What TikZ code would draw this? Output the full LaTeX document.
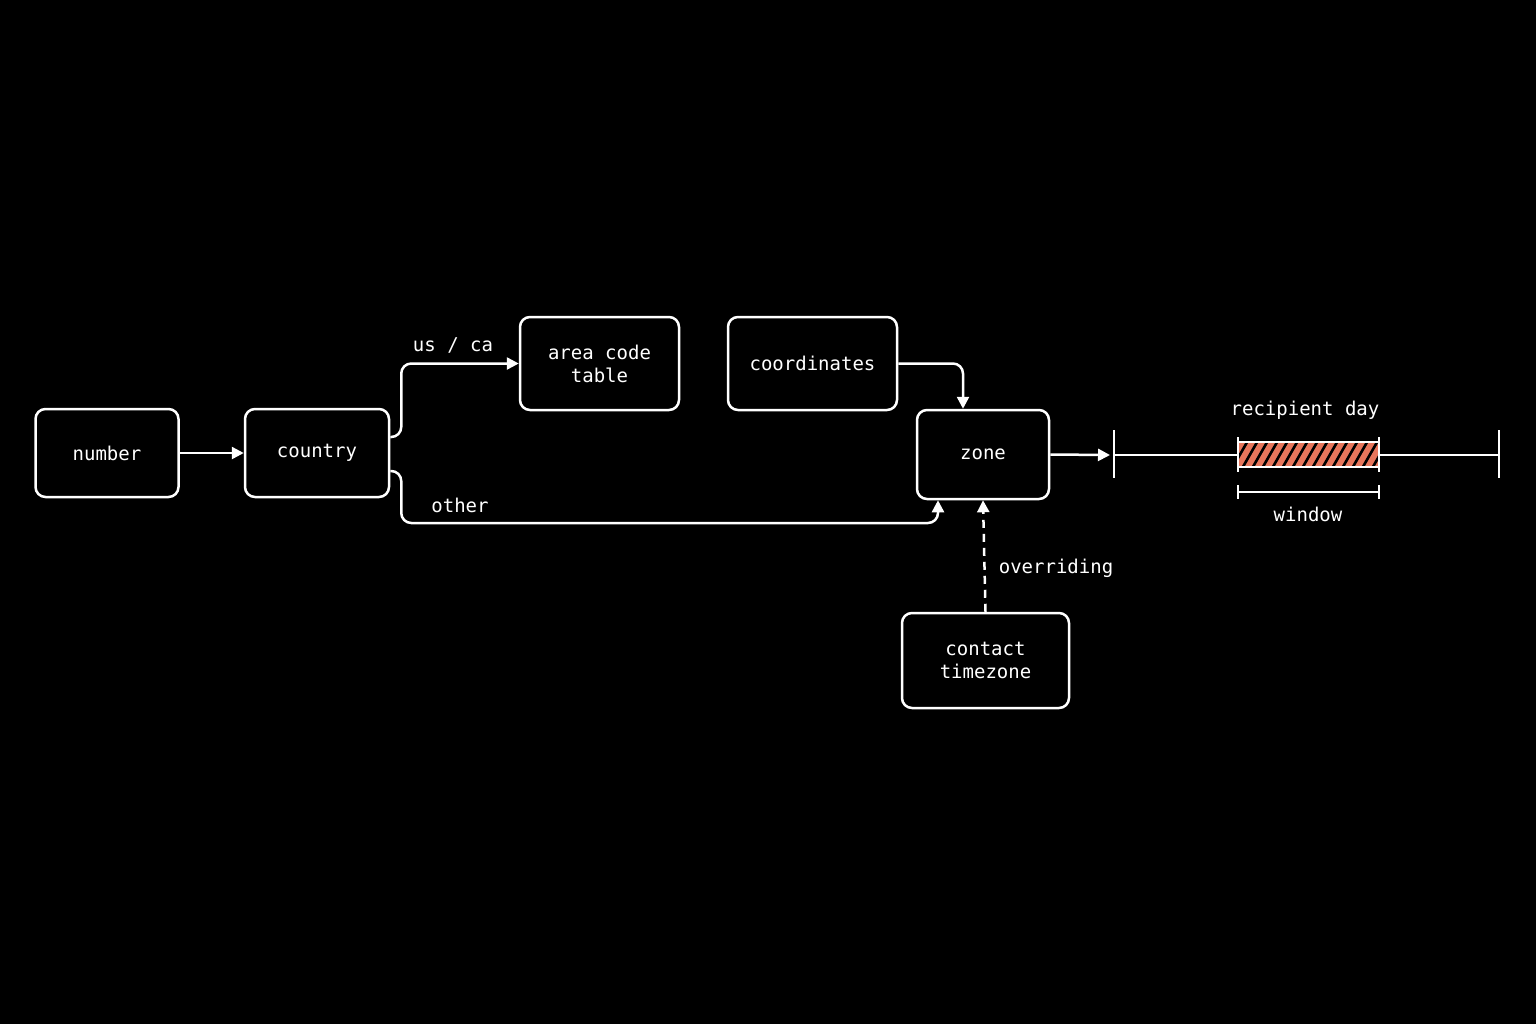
\documentclass[tikz,border=0pt]{standalone}
\usepackage{fontspec}
\setmonofont{DejaVu Sans Mono}
\usetikzlibrary{arrows.meta}
\definecolor{salmon}{HTML}{E8765C}
\begin{document}
\begin{tikzpicture}[x=0.5pt,y=-0.5pt,
  box/.style={draw=white,line width=1.25pt,rounded corners=5pt,text=white,align=center,font=\ttfamily\fontsize{9.5}{11.5}\selectfont,inner sep=0pt},
  lbl/.style={text=white,font=\ttfamily\fontsize{9.5}{11.5}\selectfont},
  con/.style={draw=white,line width=1.25pt,rounded corners=5pt,-{Triangle[length=6pt,width=6pt]}},
  ln/.style={draw=white,line width=1.25pt}]
\fill[black] (0,0) rectangle (1536,1024);
\useasboundingbox (0,0) rectangle (1536,1024);
\node[box,minimum width=71.5pt,minimum height=44pt] (number) at (107,453) {number};
\node[box,minimum width=72pt,minimum height=44pt] (country) at (317,453) {country};
\node[box,minimum width=79.5pt,minimum height=46.5pt] (area) at (599.5,363.5) {area code\\table};
\node[box,minimum width=84.5pt,minimum height=46.5pt] (coord) at (812.5,363.5) {coordinates};
\node[box,minimum width=66pt,minimum height=44.5pt] (zone) at (983,454.5) {zone};
\node[box,minimum width=83.5pt,minimum height=47.5pt] (contact) at (985.5,660.5) {contact\\timezone};
\draw[con] (number.east) -- (country.west);
\draw[con] ([yshift=8pt]country.east) -- ++(11,0) |- (area.west);
\draw[con] (coord.east) -| ([xshift=-10pt]zone.north);
\draw[con] ([yshift=-9pt]country.east) -- ++(11,0) |- (938,523) -- ([xshift=-22.5pt]zone.south);
\draw[con,dashed,dash pattern=on 4pt off 3pt] (contact.north) -- (zone.south);
\node[lbl] (usca) at (453,345) {us / ca};
\node[lbl] (other) at (460,505) {other};
\node[lbl] (over) at (1056,568) {overriding};
\coordinate (tl0) at (1114,455);
\coordinate (tl1) at (1499,455);
\draw[con] (zone.east) -- (1110,455);
\draw[ln] (tl0) -- (tl1);
\draw[ln] (1114,430) -- (1114,478);
\draw[ln] (1499,430) -- (1499,478);
\fill[salmon] (1238,442) rectangle (1379,467);
\begin{scope}
\clip (1238,442) rectangle (1379,467);
\foreach \i in {0,...,16} {\draw[black,line width=1.3pt] (1230+\i*10,472) -- (1250+\i*10,437);}
\end{scope}
\draw[ln] (1238,442) rectangle (1379,467);
\draw[ln] (1238,437) -- (1238,472);
\draw[ln] (1379,437) -- (1379,472);
\draw[ln] (1238,492) -- (1379,492);
\draw[ln] (1238,485) -- (1238,499);
\draw[ln] (1379,485) -- (1379,499);
\node[lbl] (rday) at (1305,410) {recipient day};
\node[lbl] (win) at (1308,514) {window};
\end{tikzpicture}
\end{document}
